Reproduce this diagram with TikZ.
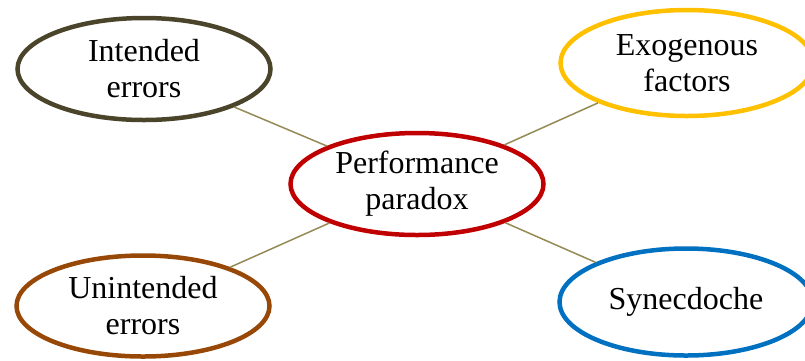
\documentclass[tikz,border=0pt]{standalone}
\usepackage{fontspec}
\setmainfont{Liberation Serif}
\usetikzlibrary{shapes.geometric}
\definecolor{intendedc}{HTML}{4A452A}
\definecolor{exogc}{HTML}{FFC000}
\definecolor{perfc}{HTML}{C00000}
\definecolor{unintc}{HTML}{984806}
\definecolor{sync}{HTML}{0070C0}
\definecolor{linkc}{HTML}{948A54}
\tikzset{
  topic/.style={ellipse, draw, line width=4.5pt, fill=white, inner sep=0pt,
    minimum width=253pt, minimum height=104pt, align=center,
    font=\fontsize{32}{36}\selectfont},
  link/.style={draw=linkc, line width=1.5pt}
}
\begin{document}
\begin{tikzpicture}[x=1pt,y=-1pt]
  \useasboundingbox (0,0) rectangle (805,360);
  % central topic and the four surrounding ones
  \node[topic, draw=perfc, minimum height=102pt] (perf) at (417,184) {Performance\\paradox};
  \node[topic, draw=intendedc, minimum height=102pt] (int) at (144,69) {Intended\\errors};
  \node[topic, draw=exogc, minimum height=106pt] (exo) at (687,63) {Exogenous\\factors};
  \node[topic, draw=unintc, minimum height=101pt] (unint) at (143,306) {Unintended\\errors};
  \node[topic, draw=sync, minimum height=107pt] (syn) at (686,302) {Synecdoche};
  % links to the centre
  \draw[link] (int) -- (perf);
  \draw[link] (exo) -- (perf);
  \draw[link] (unint) -- (perf);
  \draw[link] (syn) -- (perf);
\end{tikzpicture}
\end{document}
